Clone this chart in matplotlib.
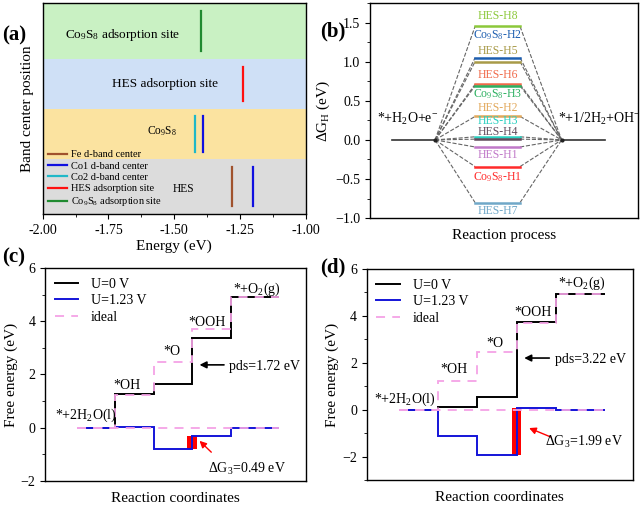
import numpy as np
import matplotlib
matplotlib.use("Agg")
import matplotlib.pyplot as plt
from matplotlib.ticker import AutoMinorLocator, MultipleLocator

plt.rcParams['font.family'] = ['Liberation Serif', 'DejaVu Serif']
plt.rcParams['mathtext.fontset'] = 'custom'
plt.rcParams['mathtext.rm'] = 'Liberation Serif'
plt.rcParams['mathtext.it'] = 'Liberation Serif:italic'
plt.rcParams['font.size'] = 10
plt.rcParams['axes.linewidth'] = 1.0

# ---- (a) band centers ----
band_names = ['HES', 'Co$_9$S$_8$', 'HES adsorption site', 'Co$_9$S$_8$ adsorption site']
band_edges = [0, 1.12, 2.15, 3.15, 4.3]
band_colors = ['#dcdcdc', '#fbe3a0', '#cfe0f6', '#c9f1c3']

series_names = ['Fe d-band center', 'Co1 d-band center', 'Co2 d-band center',
                'HES adsorption site', 'Co$_9$S$_8$ adsorption site']
series_colors = ['#a0522d', '#1010e0', '#20b8c8', '#ff1010', '#208a30']
# energy of each marker line and the band it sits in
fe_center = [-1.28]
co1_center = [-1.20, -1.39]
co2_center = [-1.42]
hes_site = [-1.24]
co9s8_site = [-1.40]
fe_band = [0]
co1_band = [0, 1]
co2_band = [1]
hes_band = [2]
co9s8_band = [3]

# ---- (b) hydrogen adsorption free energy ----
h_names = ['HES-H8', 'Co$_9$S$_8$-H2', 'HES-H5', 'HES-H6', 'Co$_9$S$_8$-H3',
           'HES-H2', 'HES-H3', 'HES-H4', 'HES-H1', 'Co$_9$S$_8$-H1', 'HES-H7']
h_values = [1.45, 1.05, 1.00, 0.71, 0.69, 0.30, 0.04, 0.01, -0.09, -0.34, -0.80]
h_colors = ['#8cc83a', '#1c5eb0', '#a89a48', '#f06a4a', '#2cb060',
            '#e2a85a', '#2ad0c0', '#604a5a', '#c078c8', '#ff2a2a', '#70a8c8']
h_label_y = [1.59, 1.34, 1.14, 0.83, 0.58, 0.41, 0.245, 0.095, -0.19, -0.47, -0.91]

# ---- (c), (d) OER free energy ----
steps_c_u0 = [0, 1.25, 1.65, 3.37, 4.92]
steps_d_u0 = [0, 0.12, 0.52, 3.74, 4.92]
step_names = ['*+2H$_2$O(l)', '*OH', '*O', '*OOH', '*+O$_2$(g)']
ideal = [0, 1.23, 2.46, 3.69, 4.92]
U = 1.23
pds_c = 1.72
pds_d = 3.22
dg3_c = 0.49
dg3_d = 1.99

fig = plt.figure(figsize=(6.4, 5.05), dpi=100)

# ===== panel (a) =====
ax = fig.add_axes([0.0667, 0.576, 0.411, 0.418])
for i in range(4):
    ax.axhspan(band_edges[i], band_edges[i + 1], color=band_colors[i], lw=0)
groups = [(fe_center, fe_band), (co1_center, co1_band), (co2_center, co2_band),
          (hes_site, hes_band), (co9s8_site, co9s8_band)]
for (xs, bs), name, col in zip(groups, series_names, series_colors):
    for j, (x, b) in enumerate(zip(xs, bs)):
        lo, hi = band_edges[b], band_edges[b + 1]
        pad = (hi - lo) * 0.15
        ax.plot([x, x], [lo + pad, hi - pad], color=col, lw=1.6,
                label=name if j == 0 else None)
ax.text(-1.695, 3.64, band_names[3], ha='center', va='center', fontsize=9.5)
ax.text(-1.535, 2.65, band_names[2], ha='center', va='center', fontsize=9.5)
ax.text(-1.548, 1.70, band_names[1], ha='center', va='center', fontsize=8.3)
ax.text(-1.463, 0.52, band_names[0], ha='center', va='center', fontsize=8.3)
ax.set_xlim(-2.0, -1.0)
ax.set_ylim(0, 4.3)
ax.set_yticks([])
ax.xaxis.set_major_locator(MultipleLocator(0.25))
ax.xaxis.set_minor_locator(AutoMinorLocator(2))
ax.xaxis.set_major_formatter(matplotlib.ticker.FormatStrFormatter('%.2f'))
ax.set_xlabel('Energy (eV)', fontsize=11, labelpad=2)
ax.set_ylabel('Band center position', fontsize=11, labelpad=6)
ax.legend(loc='lower left', fontsize=7.5, frameon=False, handlelength=1.8,
          labelspacing=0.2, borderaxespad=0.15, handletextpad=0.4)
fig.text(0.004, 0.93, '(a)', fontsize=15, fontweight='bold', va='center')

# ===== panel (b) =====
ax = fig.add_axes([0.578, 0.568, 0.419, 0.426])
left = (0.81, 2.43)
mid = (3.92, 5.6)
right = (7.15, 8.77)
ax.plot(left, [0, 0], color='#333333', lw=1.2)
ax.plot(right, [0, 0], color='#333333', lw=1.2)
for v, c, name, ly in zip(h_values, h_colors, h_names, h_label_y):
    ax.plot([left[1], mid[0]], [0, v], ls='--', color='#666666', lw=0.8)
    ax.plot([mid[1], right[0]], [v, 0], ls='--', color='#666666', lw=0.8)
    ax.plot(mid, [v, v], color=c, lw=1.8)
    ax.text(sum(mid) / 2, ly, name, color=c, ha='center', va='center', fontsize=8.5)
ax.plot([left[1], right[0]], [0, 0], 'o', color='#222222', ms=2)
ax.text(1.42, 0.27, '*+H$_2$O+e$^{-}$', ha='center', va='center', fontsize=10)
ax.text(7.0, 0.27, '*+1/2H$_2$+OH$^{-}$', ha='left', va='center', fontsize=10)
ax.set_xlim(0, 10)
ax.set_ylim(-1.0, 1.75)
ax.set_xticks([])
ax.yaxis.set_major_locator(MultipleLocator(0.5))
ax.yaxis.set_minor_locator(AutoMinorLocator(2))
ax.set_xlabel('Reaction process', fontsize=11, labelpad=8)
ax.set_ylabel(r'$\Delta$G$_\mathrm{H}$ (eV)', fontsize=11, labelpad=2)
fig.text(0.5, 0.937, '(b)', fontsize=15, fontweight='bold', va='center')


def oer_panel(rect, u0, ymin, pds, dg3, lpos, tpos):
    ax = fig.add_axes(rect)
    edges = [0, 1, 2, 3, 4, 5.25]
    u123 = [g - U * n for n, g in enumerate(u0)]
    ax.bar(3, dg3, bottom=u123[2], width=0.24, color='#ff0000', zorder=1)
    ax.stairs(u0, edges, baseline=None, color='black', lw=1.4, label='U=0 V', zorder=2)
    ax.stairs(u123, edges, baseline=None, color='#1414d8', lw=1.4,
              label='U=1.23 V', zorder=2)
    ax.stairs(ideal, edges, baseline=None, color='#f5a3e6', lw=1.3, ls=(0, (5, 4)),
              label='ideal', zorder=3)
    ax.stairs([0] * 5, edges, baseline=None, color='#f5a3e6', lw=1.3, ls=(0, (5, 4)),
              zorder=3)
    for (x, y), name in zip(tpos, step_names):
        ax.text(x, y, name, ha='center', va='center', fontsize=10)
    ax.annotate('', xy=(3.12, lpos[0]), xytext=(3.9, lpos[0]),
                arrowprops=dict(arrowstyle='-|>', color='black', lw=1.2))
    ax.text(3.97, lpos[0] - 0.08, 'pds=%.2f eV' % pds, ha='left', va='center', fontsize=10)
    ax.annotate('', xy=lpos[1], xytext=lpos[2],
                arrowprops=dict(arrowstyle='-|>', color='red', lw=1.0))
    ax.text(lpos[3][0], lpos[3][1], r'$\Delta$G$_3$=%.2f eV' % dg3,
            ha='center', va='center', fontsize=10)
    ax.set_xlim(-0.82, 5.96)
    ax.set_ylim(ymin, 6)
    ax.set_xticks([])
    ax.yaxis.set_major_locator(MultipleLocator(2))
    ax.yaxis.set_minor_locator(AutoMinorLocator(2))
    ax.set_xlabel('Reaction coordinates', fontsize=11, labelpad=8)
    ax.set_ylabel('Free energy (eV)', fontsize=11, labelpad=2)
    ax.legend(loc='upper left', fontsize=10, frameon=False, handlelength=1.7,
              labelspacing=0.25, borderaxespad=0.3, handletextpad=0.9)
    return ax


oer_panel([0.0703, 0.0475, 0.408, 0.422], steps_c_u0, -2, pds_c, dg3_c,
          [2.36, (3.14, -0.42), (3.55, -0.99), (4.42, -1.53)],
          [(0.24, 0.45), (1.3, 1.57), (2.47, 2.86), (3.38, 3.95), (4.68, 5.2)])
fig.text(0.004, 0.491, '(c)', fontsize=15, fontweight='bold', va='center')

oer_panel([0.573, 0.0495, 0.416, 0.418], steps_d_u0, -3, pds_d, dg3_d,
          [2.2, (3.25, -0.74), (3.93, -1.21), (4.71, -1.39)],
          [(0.15, 0.43), (1.41, 1.73), (2.45, 2.84), (3.41, 4.16), (4.67, 5.39)])
fig.text(0.5, 0.471, '(d)', fontsize=15, fontweight='bold', va='center')

fig.savefig('out.png', dpi=100)
